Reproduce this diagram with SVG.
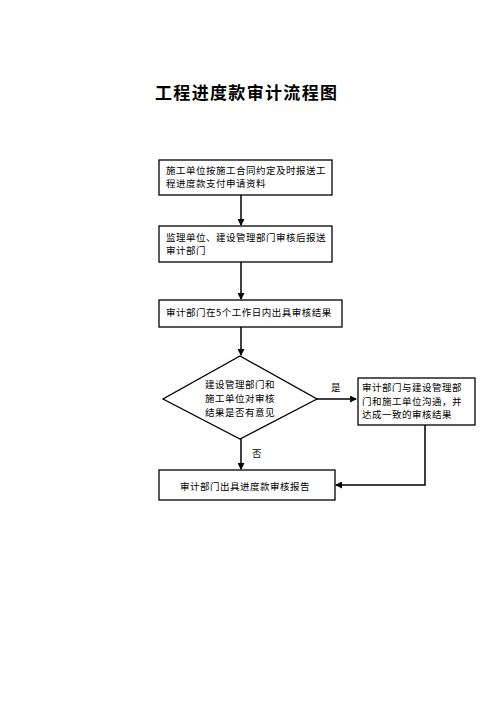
<svg xmlns="http://www.w3.org/2000/svg" width="500" height="707" viewBox="0 0 500 707">
<defs>
<style>
.box{fill:#fff;stroke:#000;stroke-width:1.3}
.t{font-family:"Noto Sans CJK SC","Liberation Sans",sans-serif;font-size:9.5px;letter-spacing:0.5px;fill:#000}
.title{font-family:"Noto Sans CJK SC","Liberation Sans",sans-serif;font-size:17px;font-weight:bold;fill:#000}
.c{fill:none;stroke:#000;stroke-width:1.5}
</style>
<marker id="ah" markerWidth="7" markerHeight="7" refX="6" refY="3.5" orient="auto" markerUnits="userSpaceOnUse">
<path d="M0,0 L7,3.5 L0,7 Z" fill="#000"/>
</marker>
</defs>
<rect width="500" height="707" fill="#fff"/>
<text class="title" x="155" y="99" textLength="182">工程进度款审计流程图</text>
<g id="connectors">
<line class="c" x1="241" y1="195" x2="241" y2="225" marker-end="url(#ah)"/>
<line class="c" x1="241" y1="262" x2="241" y2="299" marker-end="url(#ah)"/>
<line class="c" x1="241" y1="327" x2="241" y2="355" marker-end="url(#ah)"/>
<line class="c" x1="317" y1="399" x2="356" y2="399" marker-end="url(#ah)"/>
<line class="c" x1="241" y1="439" x2="241" y2="469" marker-end="url(#ah)"/>
<polyline class="c" points="425,425 425,485 336,485" marker-end="url(#ah)"/>
<text class="t" x="331" y="391">是</text>
<text class="t" x="252" y="457">否</text>
</g>
<g id="n1">
<rect class="box" x="159" y="160" width="173" height="35"/>
<text class="t" x="166" y="174">施工单位按施工合同约定及时报送工</text>
<text class="t" x="166" y="187">程进度款支付申请资料</text>
</g>
<g id="n2">
<rect class="box" x="159" y="226" width="173" height="36"/>
<text class="t" x="166" y="241">监理单位、建设管理部门审核后报送</text>
<text class="t" x="166" y="254">审计部门</text>
</g>
<g id="n3">
<rect class="box" x="159" y="300" width="183" height="27"/>
<text class="t" x="166" y="316">审计部门在5个工作日内出具审核结果</text>
</g>
<g id="n4">
<polygon class="box" points="240,356 317,399 240,439 163,399"/>
<text class="t" x="205" y="388">建设管理部门和</text>
<text class="t" x="205" y="402">施工单位对审核</text>
<text class="t" x="205" y="416">结果是否有意见</text>
</g>
<g id="n5">
<rect class="box" x="358" y="378" width="117" height="47"/>
<text class="t" x="362" y="391">审计部门与建设管理部</text>
<text class="t" x="362" y="405">门和施工单位沟通，并</text>
<text class="t" x="362" y="418">达成一致的审核结果</text>
</g>
<g id="n6">
<rect class="box" x="159" y="470" width="176" height="30"/>
<text class="t" x="180" y="490">审计部门出具进度款审核报告</text>
</g>
</svg>
